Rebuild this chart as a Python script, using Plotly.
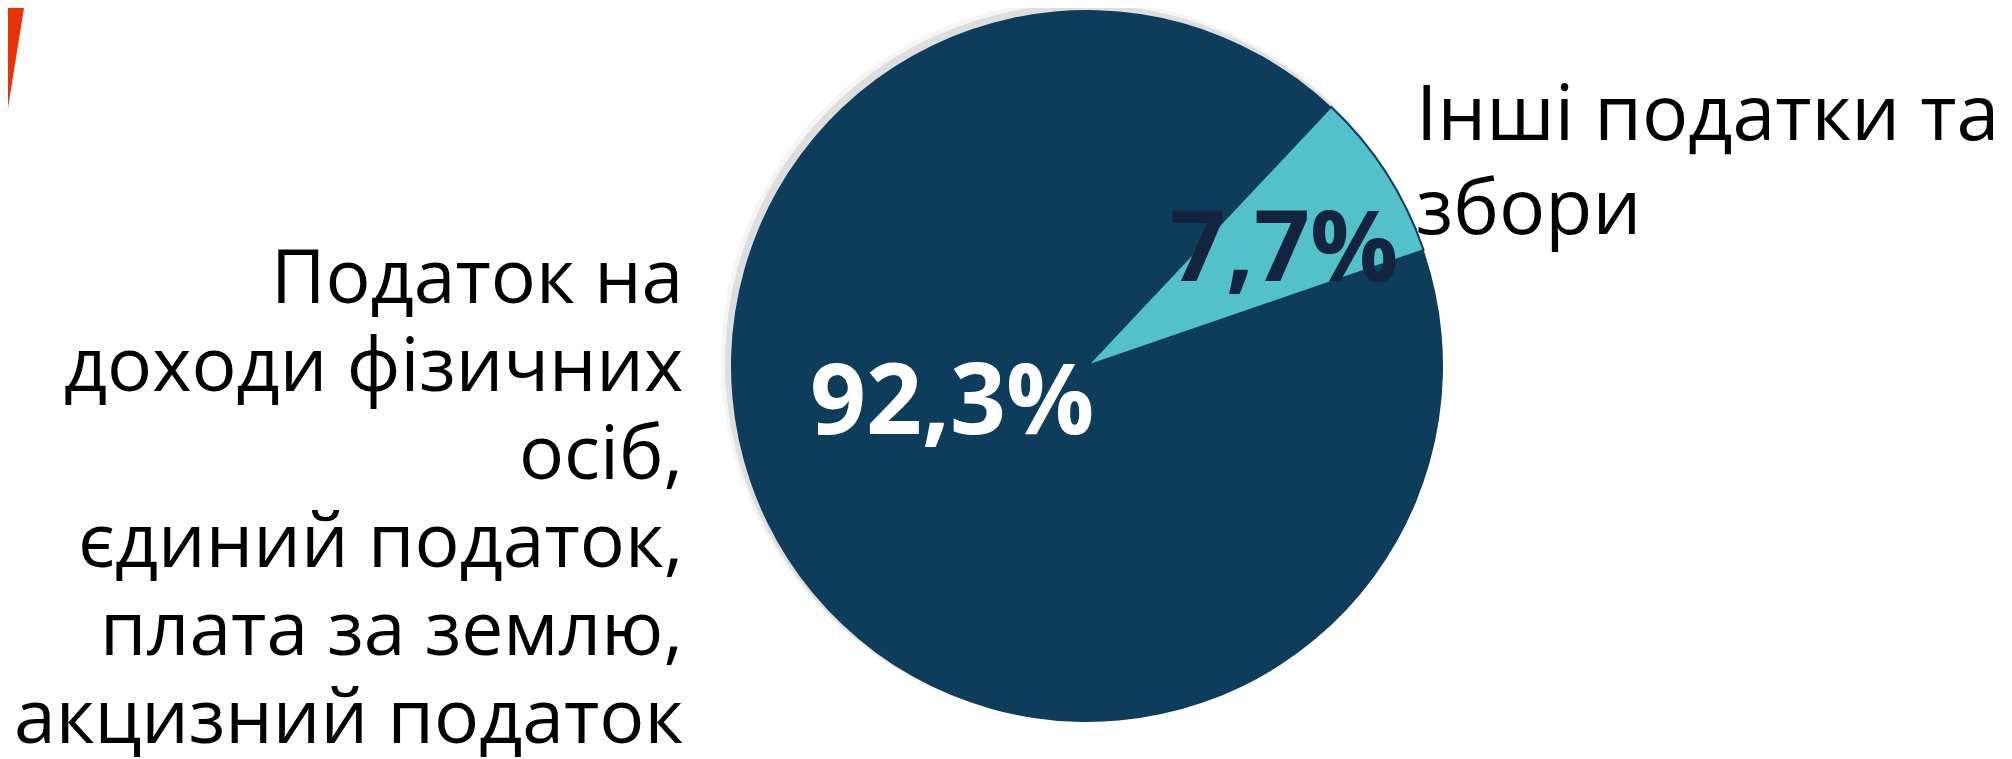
import plotly.graph_objects as go

# data
categories = [
    "Податок на доходи фізичних осіб, єдиний податок, плата за землю, акцизний податок",
    "Інші податки та збори",
]
shares = [92.3, 7.7]
colors = ["#0E3D5C", "#52C1C9"]
label_lines = [
    ["Податок на", "доходи фізичних", "осіб,", "єдиний податок,", "плата за землю,", "акцизний податок"],
    ["Інші податки та", "збори"],
]

W, H = 2012, 759


def px(x):
    return x / W


def py(y):
    return 1 - y / H


fig = go.Figure(
    go.Pie(
        labels=categories,
        values=shares,
        sort=False,
        direction="clockwise",
        rotation=71,
        marker=dict(colors=colors, line=dict(color=["rgba(0,0,0,0)", "#0E3D5C"], width=[0, 2])),
        textinfo="none",
        hoverinfo="label+percent",
        showlegend=False,
        domain=dict(x=[px(723), px(1435)], y=[py(714), py(2)]),
    )
)

font = "Open Sans, Noto Sans, sans-serif"
annotations = []

# left category label, one line per annotation to keep the tight line spacing
for i, line in enumerate(label_lines[0]):
    annotations.append(dict(
        x=px(677), y=py(266 + 88 * i), xref="paper", yref="paper",
        xanchor="right", yanchor="middle", text=line, showarrow=False,
        font=dict(family=font, size=75, color="#000000"),
    ))

for i, line in enumerate(label_lines[1]):
    annotations.append(dict(
        x=px(1406), y=py(102 + 94 * i), xref="paper", yref="paper",
        xanchor="left", yanchor="middle", text=line, showarrow=False,
        font=dict(family=font, size=77, color="#000000"),
    ))


def pct(v):
    return f"{v:.1f}%".replace(".", ",")


annotations.append(dict(
    x=px(944), y=py(388), xref="paper", yref="paper", xanchor="center", yanchor="middle",
    text=f"<b>{pct(shares[0])}</b>", showarrow=False,
    font=dict(family=font, size=98, color="#FFFFFF"),
))
annotations.append(dict(
    x=px(1276), y=py(235), xref="paper", yref="paper", xanchor="center", yanchor="middle",
    text=f"<b>{pct(shares[1])}</b>", showarrow=False,
    font=dict(family=font, size=98, color="#12243F"),
))

fig.update_layout(
    width=W, height=H,
    margin=dict(l=0, r=0, t=0, b=0),
    paper_bgcolor="#FFFFFF",
    plot_bgcolor="#FFFFFF",
    annotations=annotations,
    shapes=[
        # soft shadow behind the pie, slightly up and to the left
        dict(type="circle", xref="paper", yref="paper", layer="below",
             x0=px(717), x1=px(1433), y0=py(712), y1=py(-4),
             fillcolor="rgba(0,0,0,0.09)", line=dict(width=0)),
        dict(type="circle", xref="paper", yref="paper", layer="below",
             x0=px(713), x1=px(1433), y0=py(712), y1=py(-8),
             fillcolor="rgba(0,0,0,0.04)", line=dict(width=0)),
        # red accent in the top-left corner
        dict(type="path", xref="paper", yref="paper",
             path=f"M 0 1 L {px(16)} 1 L 0 {py(100)} Z",
             fillcolor="#E83208", line=dict(width=0)),
    ],
)

fig.write_html("out.html")
